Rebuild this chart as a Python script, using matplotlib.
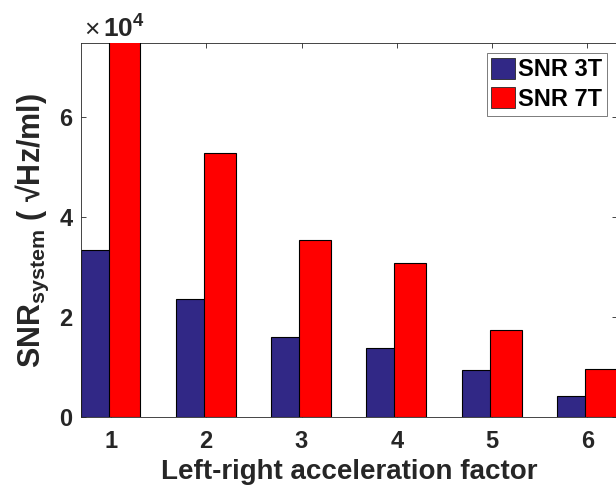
import numpy as np
import matplotlib
matplotlib.use("Agg")
import matplotlib.pyplot as plt
from matplotlib.patches import Patch

# values (SNR x 1e4)
factors = [1, 2, 3, 4, 5, 6]
snr_3t = [3.35, 2.36, 1.60, 1.39, 0.94, 0.42]
snr_7t = [7.90, 5.28, 3.54, 3.08, 1.75, 0.96]
series_labels = ["SNR 3T", "SNR 7T"]

plt.rcParams["font.family"] = "Liberation Sans"
plt.rcParams["font.weight"] = "bold"
plt.rcParams["mathtext.fontset"] = "custom"
plt.rcParams["mathtext.rm"] = "Liberation Sans:bold"
plt.rcParams["mathtext.bf"] = "Liberation Sans:bold"
plt.rcParams["mathtext.it"] = "Liberation Sans:bold:italic"

col_3t = "#312886"
col_7t = "#ff0000"
dark = "#262626"

fig = plt.figure(figsize=(6.16, 4.94), dpi=100)
ax = fig.add_axes([0.1315, 0.1549, 0.870, 0.7575])

x = np.array(factors, dtype=float)
scale = 1e4
ax.bar(x - 0.318, np.array(snr_3t) * scale, width=0.33, align="edge",
       color=col_3t, edgecolor="black", linewidth=0.8, zorder=2)
ax.bar(x - 0.025, np.array(snr_7t) * scale, width=0.335, align="edge",
       color=col_7t, edgecolor="black", linewidth=0.8, zorder=3)

ax.set_xlim(0.686, 6.31)
ax.set_ylim(0, 7.48e4)
ax.set_xticks(factors)
ax.set_yticks([0, 2e4, 4e4, 6e4])
ax.set_yticklabels(["0", "2", "4", "6"])

ax.tick_params(direction="in", length=3.6, width=0.6, color=dark,
               labelsize=17, labelcolor=dark, top=True, right=True)
ax.tick_params(axis="x", pad=9)
ax.tick_params(axis="y", pad=6)
for s in ax.spines.values():
    s.set_color(dark)
    s.set_linewidth(0.6)

ax.set_xlabel("Left-right acceleration factor", fontsize=20,
              fontweight="bold", color=dark, labelpad=4)
ax.set_ylabel("SNR$_{\\mathrm{system}}$ ( \u221aHz/ml)", fontsize=22,
              fontweight="bold", color=dark, labelpad=6)

ax.text(0.006, 1.016, "\u00d7", transform=ax.transAxes, fontsize=19,
        fontweight="normal", color=dark, ha="left", va="baseline")
ax.text(0.041, 1.016, "$\\mathbf{10^{4}}$", transform=ax.transAxes,
        fontsize=19, color=dark, ha="left", va="baseline")

handles = [Patch(facecolor=col_3t, edgecolor=dark, linewidth=0.6),
           Patch(facecolor=col_7t, edgecolor=dark, linewidth=0.6)]
leg = ax.legend(handles, series_labels, loc="upper right",
                bbox_to_anchor=(0.982, 0.974), borderaxespad=0,
                fontsize=17, frameon=True, fancybox=False,
                handlelength=1.0, handleheight=1.0, handletextpad=0.15,
                labelspacing=0.25, borderpad=0.2)
leg.get_frame().set_edgecolor("#404040")
leg.get_frame().set_linewidth(0.6)

fig.savefig("out.png", dpi=100)
